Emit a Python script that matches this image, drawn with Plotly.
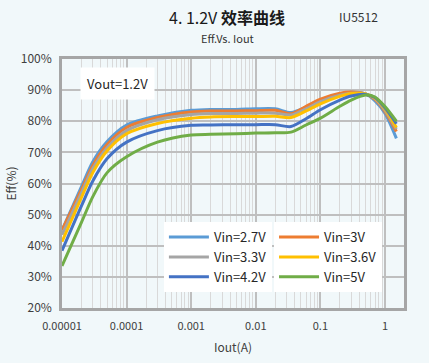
import plotly.graph_objects as go

iout = [0.00001, 0.00002, 0.00003, 0.00005, 0.0001, 0.0003, 0.001, 0.002, 0.005,
        0.01, 0.02, 0.035, 0.06, 0.1, 0.2, 0.3, 0.5, 0.7, 1.0, 1.5]

eff_27 = [45.0, 59.0, 67.0, 73.5, 78.8, 81.7, 83.5, 83.8, 83.8, 84.0, 84.0, 82.8,
          84.5, 86.8, 88.8, 89.3, 88.8, 86.5, 82.5, 74.5]
eff_30 = [45.0, 58.0, 65.8, 72.5, 78.0, 81.2, 83.0, 83.3, 83.3, 83.4, 83.5, 82.4,
          84.8, 87.1, 89.0, 89.4, 88.8, 87.0, 83.1, 76.7]
eff_33 = [43.5, 57.0, 64.8, 71.5, 77.0, 80.5, 82.2, 82.5, 82.5, 82.6, 82.6, 82.0,
          84.0, 86.3, 88.4, 89.0, 88.8, 87.3, 83.5, 77.5]
eff_36 = [41.3, 55.5, 63.5, 70.5, 76.0, 79.3, 81.0, 81.4, 81.5, 81.5, 81.6, 81.2,
          83.3, 85.6, 88.0, 88.9, 88.8, 87.5, 84.0, 78.0]
eff_42 = [38.4, 52.8, 60.8, 68.0, 73.3, 77.0, 78.7, 78.8, 78.9, 78.9, 78.9, 78.3,
          80.8, 83.7, 86.8, 88.1, 88.6, 87.6, 84.3, 79.2]
eff_50 = [33.5, 47.5, 55.8, 63.5, 68.6, 73.3, 75.6, 75.8, 76.0, 76.2, 76.3, 76.5,
          78.8, 81.0, 84.8, 86.8, 88.4, 87.8, 84.7, 80.0]

series_names = ["Vin=2.7V", "Vin=3V", "Vin=3.3V", "Vin=3.6V", "Vin=4.2V", "Vin=5V"]
series_vals = [eff_27, eff_30, eff_33, eff_36, eff_42, eff_50]
colors = ["#5B9BD5", "#ED7D31", "#A5A5A5", "#FFC000", "#4472C4", "#70AD47"]
legend_ids = ["legend", "legend2", "legend", "legend2", "legend", "legend2"]

x_tickvals = [0.00001, 0.0001, 0.001, 0.01, 0.1, 1]
x_ticktext = ["0.00001", "0.0001", "0.001", "0.01", "0.1", "1"]
y_tickvals = [20, 30, 40, 50, 60, 70, 80, 90, 100]
y_ticktext = ["20%", "30%", "40%", "50%", "60%", "70%", "80%", "90%", "100%"]

FONT = "Noto Sans CJK SC"
BG = "#F1F8FA"

fig = go.Figure()
for name, vals, col, lg in zip(series_names, series_vals, colors, legend_ids):
    fig.add_trace(go.Scatter(x=iout, y=vals, mode="lines", name=name,
                             line=dict(color=col, width=3, shape="spline", smoothing=0.8),
                             legend=lg))

legend_common = dict(bgcolor="white", font=dict(family=FONT, size=13, color="#262626"),
                     yanchor="top", xanchor="left", orientation="v",
                     tracegroupgap=0, itemwidth=40)

fig.update_layout(
    width=429, height=363,
    margin=dict(l=62, r=25, t=59, b=55, autoexpand=False),
    paper_bgcolor=BG, plot_bgcolor=BG,
    font=dict(family=FONT, size=11, color="#404040"),
    showlegend=True,
    legend=dict(x=0.298, y=0.345, **legend_common),
    legend2=dict(x=0.62, y=0.345, **legend_common),
    xaxis=dict(type="log", range=[-5, 0.294], automargin=False,
               tickmode="array", tickvals=x_tickvals, ticktext=x_ticktext,
               showgrid=True, gridcolor="#BFBFBF", gridwidth=1.5,
               minor=dict(showgrid=True, gridcolor="#D9D9D9", gridwidth=1, dtick="D1", ticks=""),
               showline=True, linecolor="#A6A6A6", linewidth=2.5, mirror=True,
               ticks="", zeroline=False, ticklabelstandoff=6,
               tickfont=dict(family=FONT, size=11, color="#404040"),
               title=dict(text="Iout(A)", font=dict(family=FONT, size=12, color="#404040"), standoff=12)),
    yaxis=dict(range=[20, 100], tickmode="array", tickvals=y_tickvals, ticktext=y_ticktext,
               automargin=False, ticklabelstandoff=5,
               showgrid=True, gridcolor="#BFBFBF", gridwidth=1.5,
               showline=True, linecolor="#A6A6A6", linewidth=2.5, mirror=True,
               ticks="", zeroline=False,
               tickfont=dict(family=FONT, size=12, color="#404040"),
               title=dict(text="Eff(%)", font=dict(family=FONT, size=12, color="#404040"), standoff=2)),
    annotations=[
        dict(text="4. 1.2V <b>效率曲线</b>", xref="paper", yref="paper", x=0.4825, y=1.169,
             xanchor="center", yanchor="middle",
             showarrow=False, font=dict(family=FONT, size=16, color="#1a1a1a")),
        dict(text="IU5512", xref="paper", yref="paper", x=0.866, y=1.169,
             xanchor="center", yanchor="middle",
             showarrow=False, font=dict(family=FONT, size=12, color="#333333")),
        dict(text="Eff.Vs. Iout", xref="paper", yref="paper", x=0.4825, y=1.084,
             xanchor="center", yanchor="middle",
             showarrow=False, font=dict(family=FONT, size=11, color="#333333")),
        dict(text="Vout=1.2V", xref="paper", yref="paper", x=0.161, y=0.90,
             xanchor="center", yanchor="middle",
             showarrow=False, bgcolor="white", borderpad=6,
             font=dict(family=FONT, size=13, color="#262626")),
    ],
)

fig.write_html("out.html", config={"displayModeBar": False},
               post_script="document.body.style.margin='0';document.body.style.background='%s';" % BG)
